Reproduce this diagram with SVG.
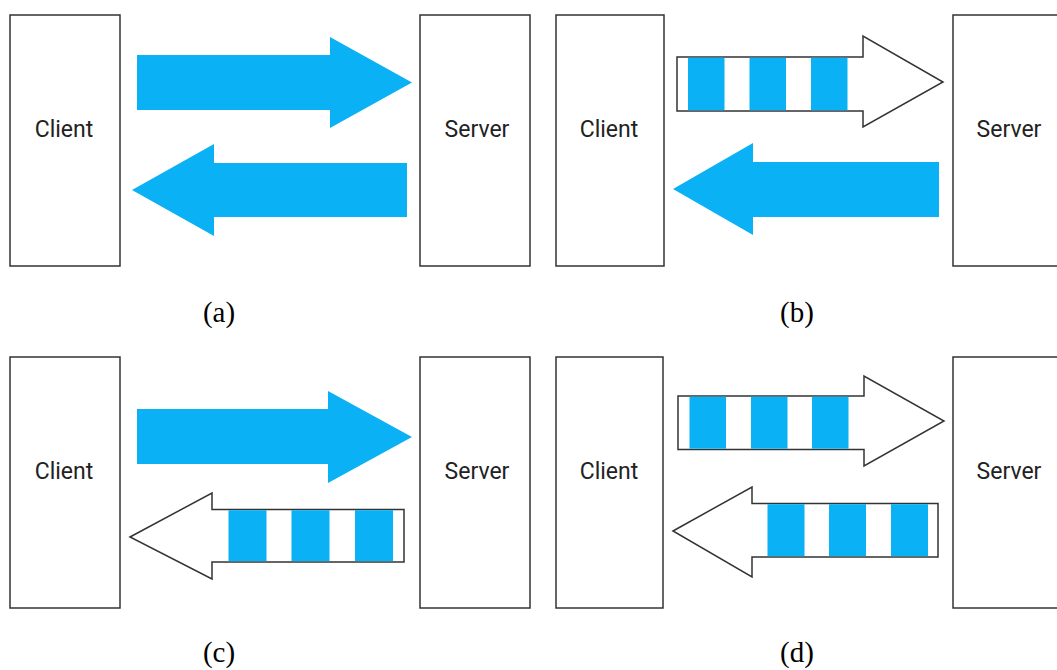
<svg xmlns="http://www.w3.org/2000/svg" width="1057" height="670" viewBox="0 0 1057 670">
<defs>
<style>
.box{fill:#fff;stroke:#333;stroke-width:1.5}
.lbl{font-family:Roboto,"Liberation Sans",sans-serif;font-size:23px;fill:#222;text-anchor:middle}
.cap{font-family:"Liberation Serif","Times New Roman",serif;font-size:29px;fill:#000;text-anchor:middle}
.solid{fill:#0bb1f5;stroke:none}
.hollow{fill:#fff;stroke:#333;stroke-width:1.5;stroke-linejoin:miter}
.stripe{fill:#0bb1f5}
</style>
</defs>
<rect width="1057" height="670" fill="#fff"/>

<!-- Panel (a) -->
<g id="a-client"><rect class="box" x="10" y="15" width="110" height="251"/><text class="lbl" x="64" y="136.5">Client</text></g>
<g id="a-server"><rect class="box" x="420" y="15" width="110" height="251"/><text class="lbl" x="477" y="136.5">Server</text></g>

<!-- Panel (b) -->
<g id="b-client"><rect class="box" x="556" y="15" width="108" height="251"/><text class="lbl" x="609" y="136.5">Client</text></g>
<g id="b-server"><rect class="box" x="953" y="15" width="110" height="251"/><text class="lbl" x="1009" y="136.5">Server</text></g>

<!-- Panel (c) -->
<g id="c-client"><rect class="box" x="10" y="357" width="110" height="251"/><text class="lbl" x="64" y="478.5">Client</text></g>
<g id="c-server"><rect class="box" x="420" y="357" width="110" height="251"/><text class="lbl" x="477" y="478.5">Server</text></g>

<!-- Panel (d) -->
<g id="d-client"><rect class="box" x="556" y="357" width="107" height="251"/><text class="lbl" x="609" y="478.5">Client</text></g>
<g id="d-server"><rect class="box" x="953" y="357" width="110" height="251"/><text class="lbl" x="1009" y="478.5">Server</text></g>

<g id="connectors">
  <!-- (a) -->
  <polygon class="solid" points="137,55 330,55 330,37 412,82.5 330,128 330,110 137,110"/>
  <polygon class="solid" points="132,190 214,144 214,163 407,163 407,217 214,217 214,236"/>

  <!-- (b) -->
  <g id="b-req">
    <polygon class="hollow" points="677,57 863,57 863,36 943,82 863,127 863,111 677,111"/>
    <rect class="stripe" x="688" y="57.7" width="36.5" height="52.6"/>
    <rect class="stripe" x="749.5" y="57.7" width="36.5" height="52.6"/>
    <rect class="stripe" x="811" y="57.7" width="36.5" height="52.6"/>
  </g>
  <polygon class="solid" points="673,189 753,143 753,162 939,162 939,217 753,217 753,235"/>

  <!-- (c) -->
  <polygon class="solid" points="137,409 328,409 328,391 412,437 328,483 328,464 137,464"/>
  <g id="c-resp">
    <polygon class="hollow" points="130,537 212,493 212,509.5 404,509.5 404,562 212,562 212,579"/>
    <rect class="stripe" x="228.5" y="510.2" width="38" height="51"/>
    <rect class="stripe" x="291.5" y="510.2" width="38" height="51"/>
    <rect class="stripe" x="355" y="510.2" width="38" height="51"/>
  </g>

  <!-- (d) -->
  <g id="d-req">
    <polygon class="hollow" points="678,396 864,396 864,376 944,421 864,466 864,449.5 678,449.5"/>
    <rect class="stripe" x="689.5" y="396.7" width="36.5" height="52"/>
    <rect class="stripe" x="751" y="396.7" width="36.5" height="52"/>
    <rect class="stripe" x="812" y="396.7" width="36.5" height="52"/>
  </g>
  <g id="d-resp">
    <polygon class="hollow" points="673,531 752,487 752,503.5 938,503.5 938,557 752,557 752,577"/>
    <rect class="stripe" x="767.5" y="504.2" width="37" height="52"/>
    <rect class="stripe" x="829" y="504.2" width="37" height="52"/>
    <rect class="stripe" x="891" y="504.2" width="37" height="52"/>
  </g>
</g>

<text class="cap" x="219" y="322">(a)</text>
<text class="cap" x="797" y="322">(b)</text>
<text class="cap" x="219" y="662">(c)</text>
<text class="cap" x="797" y="662">(d)</text>
</svg>
